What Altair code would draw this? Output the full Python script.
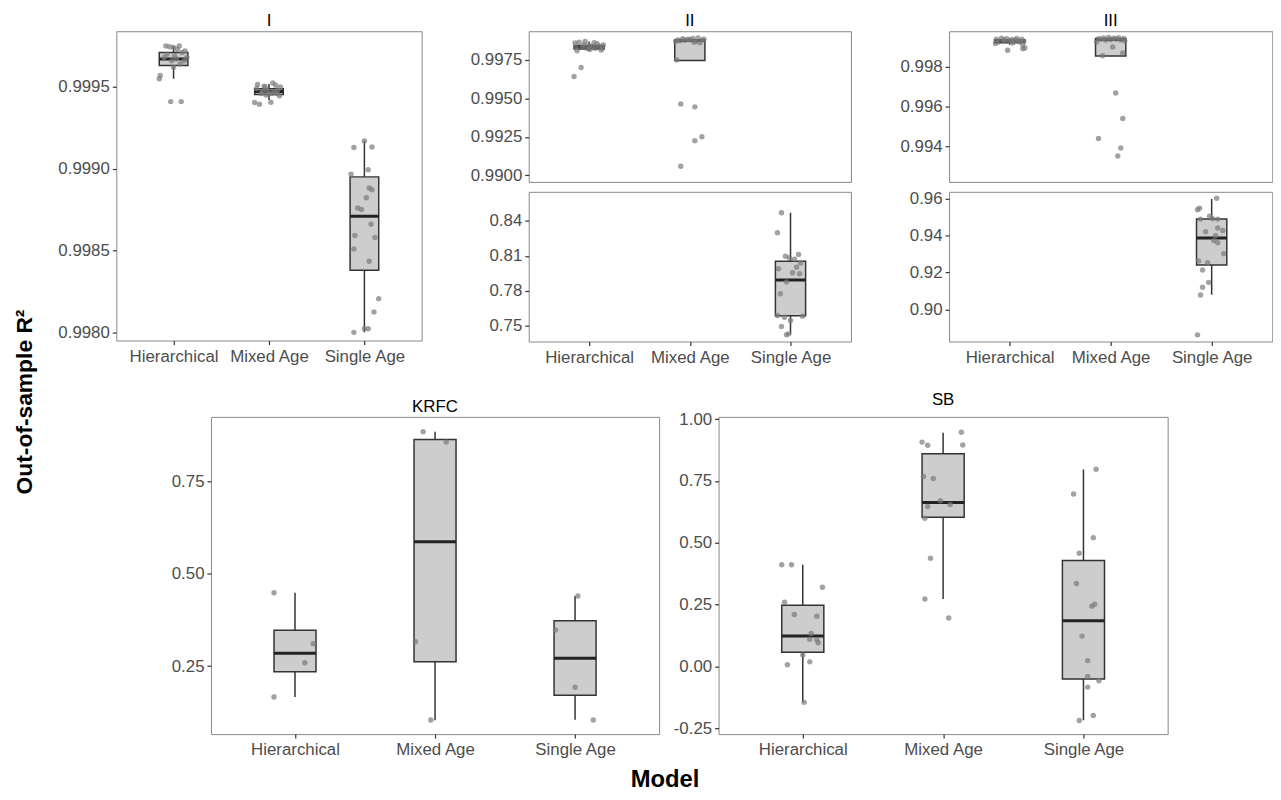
import altair as alt
import pandas as pd

FONT = "Liberation Sans"
MODELS = ["Hierarchical", "Mixed Age", "Single Age"]

# ---- box statistics (lower whisker, Q1, median, Q3, upper whisker) per model ----
BOX_I = dict(lo=[0.99955, 0.99942, 0.99800], q1=[0.99963, 0.999453, 0.99838],
             med=[0.99967, 0.999472, 0.99871], q3=[0.99971, 0.999488, 0.99895],
             hi=[0.99975, 0.999518, 0.99917])
BOX_II = dict(lo=[0.99805, 0.99747, 0.7423], q1=[0.99822, 0.99747, 0.7586],
              med=[0.99833, 0.99876, 0.7894], q3=[0.99845, 0.99881, 0.8054],
              hi=[0.99870, 0.99895, 0.8471])
BOX_III = dict(lo=[0.99912, 0.99855, 0.9080], q1=[0.99922, 0.99855, 0.9240],
               med=[0.99930, 0.99938, 0.9386], q3=[0.99937, 0.99943, 0.9488],
               hi=[0.99945, 0.99948, 0.9596])
BOX_KRFC = dict(lo=[0.1665, 0.1037, 0.105], q1=[0.235, 0.262, 0.171],
                med=[0.285, 0.587, 0.2716], q3=[0.347, 0.864, 0.373],
                hi=[0.449, 0.885, 0.440])
BOX_SB = dict(lo=[-0.1447, 0.2733, -0.217], q1=[0.058, 0.603, -0.0507],
              med=[0.1234, 0.663, 0.185], q3=[0.248, 0.860, 0.429],
              hi=[0.4116, 0.9445, 0.796])

# ---- jittered points: x position (1,2,3 = model) and R2 value ----
I_X = {
    "Hierarchical": [0.92, 0.96, 1.06, 1.00, 1.09, 1.14, 1.03, 0.98, 1.07, 1.01, 0.86, 0.85, 0.97, 1.08, 1.00, 1.11, 0.93, 1.04, 0.90, 1.12],
    "Mixed Age": [1.88, 1.95, 2.04, 2.07, 2.11, 1.85, 1.90, 2.02, 1.93, 2.00, 2.09, 1.97, 2.05, 1.87, 2.12, 1.98, 2.03, 1.92, 2.08, 1.96],
    "Single Age": [3.00, 2.89, 3.08, 3.04, 2.86, 3.05, 3.08, 3.02, 2.97, 3.07, 2.90, 3.11, 2.89, 3.05, 3.15, 3.10, 3.00, 3.04, 2.89, 2.93],
}
I_Y = {
    "Hierarchical": [0.99975, 0.999745, 0.99975, 0.99974, 0.99971, 0.99968, 0.99967, 0.99966, 0.99964, 0.99969, 0.99957, 0.99955, 0.99941, 0.99941, 0.99962, 0.99966, 0.99970, 0.99973, 0.99968, 0.99972],
    "Mixed Age": [0.999514, 0.999504, 0.999524, 0.99951, 0.999445, 0.999404, 0.999394, 0.999406, 0.99947, 0.99946, 0.99948, 0.99945, 0.99947, 0.99949, 0.99950, 0.99948, 0.99946, 0.99946, 0.99946, 0.99950],
    "Single Age": [0.999169, 0.999129, 0.999133, 0.998994, 0.998966, 0.998882, 0.998872, 0.998822, 0.998751, 0.998661, 0.998592, 0.99858, 0.99851, 0.998435, 0.998206, 0.998124, 0.998022, 0.998022, 0.998, 0.99876],
}
II_X = {
    "Hierarchical": [0.86, 0.90, 0.95, 1.00, 1.05, 1.10, 1.13, 0.88, 0.93, 0.98, 1.03, 1.08, 1.12, 0.87, 1.01, 1.06, 0.96, 1.14, 0.85, 0.92],
    "Mixed Age": [1.88, 1.93, 1.98, 2.03, 2.08, 2.12, 1.90, 2.06, 2.10, 1.95, 2.00, 2.14, 1.86, 2.04, 1.87, 1.91, 2.05, 2.12, 2.05, 1.91],
    "Single Age": [2.91, 2.87, 2.95, 3.08, 3.04, 3.06, 3.02, 3.09, 2.88, 2.96, 2.90, 2.87, 2.94, 3.00, 3.12, 2.91, 2.96, 2.98, 3.10, 2.99],
}
II_Y = {
    "Hierarchical": [0.99860, 0.99866, 0.99850, 0.99845, 0.99862, 0.99840, 0.99828, 0.99810, 0.99835, 0.99825, 0.99838, 0.99855, 0.99815, 0.99830, 0.99820, 0.99826, 0.99870, 0.99848, 0.996426, 0.997005],
    "Mixed Age": [0.99880, 0.99888, 0.99885, 0.99890, 0.99893, 0.99880, 0.99875, 0.99870, 0.99862, 0.99878, 0.99882, 0.99885, 0.99870, 0.99866, 0.99750, 0.994645, 0.994452, 0.992504, 0.992247, 0.990594],
    "Single Age": [0.8471, 0.8300, 0.8097, 0.8113, 0.8073, 0.8004, 0.7956, 0.7947, 0.7990, 0.7876, 0.7776, 0.7589, 0.7574, 0.7546, 0.7583, 0.7494, 0.7423, 0.7431, 0.8040, 0.8085],
}
III_X = {
    "Hierarchical": [0.87, 0.92, 0.97, 1.02, 1.07, 1.12, 1.14, 0.89, 0.95, 1.00, 1.05, 1.10, 0.86, 1.03, 1.13, 0.94, 1.08, 0.98, 1.13, 1.15],
    "Mixed Age": [1.88, 1.93, 1.98, 2.03, 2.08, 2.13, 1.90, 2.00, 2.10, 1.95, 2.05, 2.14, 1.86, 2.02, 2.12, 1.92, 2.05, 2.12, 1.88, 2.10, 2.07],
    "Single Age": [3.05, 2.88, 2.86, 2.98, 2.89, 3.06, 3.06, 3.11, 3.04, 3.02, 3.06, 3.12, 2.87, 2.96, 2.91, 2.97, 2.91, 2.89, 2.86, 3.01, 2.94],
}
III_Y = {
    "Hierarchical": [0.99940, 0.99945, 0.99942, 0.99938, 0.99944, 0.99940, 0.99930, 0.99925, 0.99932, 0.99928, 0.99935, 0.99926, 0.99918, 0.99920, 0.99912, 0.99936, 0.99933, 0.99884, 0.99892, 0.99895],
    "Mixed Age": [0.99942, 0.99946, 0.99948, 0.99945, 0.99947, 0.99944, 0.99940, 0.99938, 0.99936, 0.99935, 0.99941, 0.99930, 0.99925, 0.99900, 0.99870, 0.99856, 0.99668, 0.99539, 0.99438, 0.99390, 0.99350],
    "Single Age": [0.9600, 0.9547, 0.9538, 0.9503, 0.9488, 0.9488, 0.9440, 0.9427, 0.9398, 0.9372, 0.9360, 0.9301, 0.9262, 0.9253, 0.9214, 0.9147, 0.9121, 0.9079, 0.8864, 0.9490, 0.9420],
}
KRFC_X = {
    "Hierarchical": [0.85, 1.13, 1.07, 0.85],
    "Mixed Age": [1.915, 2.08, 1.86, 1.97],
    "Single Age": [3.02, 2.86, 3.00, 3.13],
}
KRFC_Y = {
    "Hierarchical": [0.449, 0.311, 0.259, 0.1665],
    "Mixed Age": [0.885, 0.857, 0.316, 0.104],
    "Single Age": [0.440, 0.348, 0.193, 0.104],
}
SB_X = {
    "Hierarchical": [0.85, 0.92, 1.14, 0.87, 0.94, 1.10, 1.06, 1.05, 1.10, 1.11, 1.00, 1.05, 0.89, 1.01],
    "Mixed Age": [2.13, 1.85, 1.89, 2.14, 1.86, 1.93, 1.98, 2.05, 1.89, 1.87, 1.91, 1.87, 2.04],
    "Single Age": [3.09, 2.93, 3.07, 2.97, 2.95, 3.08, 3.06, 2.99, 3.03, 3.03, 3.11, 3.03, 3.07, 2.97],
}
SB_Y = {
    "Hierarchical": [0.4116, 0.4116, 0.3203, 0.260, 0.2105, 0.2037, 0.134, 0.110, 0.107, 0.0965, 0.047, 0.019, 0.007, -0.1447],
    "Mixed Age": [0.947, 0.907, 0.894, 0.895, 0.768, 0.760, 0.670, 0.655, 0.647, 0.599, 0.438, 0.273, 0.196],
    "Single Age": [0.797, 0.697, 0.521, 0.458, 0.336, 0.252, 0.244, 0.123, 0.024, -0.040, -0.0575, -0.083, -0.198, -0.218],
}


def frames(box, px, py):
    brows = []
    prows = []
    for i, m in enumerate(MODELS):
        brows.append(dict(model=m, pos=i + 1, lo=box["lo"][i], q1=box["q1"][i],
                          med=box["med"][i], q3=box["q3"][i], hi=box["hi"][i]))
        for xv, yv in zip(px[m], py[m]):
            prows.append(dict(model=m, x=xv, y=yv))
    return pd.DataFrame(brows), pd.DataFrame(prows)


LABEL_EXPR = ("datum.value == 1 ? 'Hierarchical' : datum.value == 2 ? 'Mixed Age' : "
              "datum.value == 3 ? 'Single Age' : ''")
BOX_HALF = 0.15


def panel(box, px, py, models, ydom, yvals, fmt, w, h, show_x, title=None):
    bdf, pdf = frames(box, px, py)
    bdf = bdf[bdf.model.isin(models)]
    pdf = pdf[pdf.model.isin(models)]
    xs = alt.Scale(domain=[0.4, 3.6], nice=False, zero=False)
    ys = alt.Scale(domain=ydom, nice=False, zero=False)
    if show_x:
        xa = alt.Axis(values=[1, 2, 3], labelExpr=LABEL_EXPR, title=None, grid=False,
                      domain=False, labelPadding=4)
    else:
        xa = None
    ya = alt.Axis(values=yvals, labelExpr=f"replace(format(datum.value, '{fmt}'), '\u2212', '-')",
                  title=None, grid=False, domain=False)

    def X(f):
        return alt.X(f, scale=xs, axis=xa)

    def Y(f):
        return alt.Y(f, scale=ys, axis=ya)

    bb = alt.Chart(bdf).transform_calculate(x0=f"datum.pos - {BOX_HALF}",
                                            x1=f"datum.pos + {BOX_HALF}")
    whisk = bb.mark_rule(color="#333333", strokeWidth=1.5, clip=True).encode(
        x=X("pos:Q"), y=Y("lo:Q"), y2="hi:Q")
    boxes = bb.mark_bar(fill="#cdcdcd", stroke="#333333", strokeWidth=1.5, clip=True).encode(
        x=X("x0:Q"), x2="x1:Q", y=Y("q1:Q"), y2="q3:Q")
    med = bb.mark_rule(color="#222222", strokeWidth=3, clip=True).encode(
        x=X("x0:Q"), x2="x1:Q", y=Y("med:Q"))
    pts = alt.Chart(pdf).mark_circle(size=30, color="#7a7a7a", opacity=0.7, clip=True).encode(
        x=X("x:Q"), y=Y("y:Q"))
    ch = alt.layer(whisk, boxes, med, pts).properties(width=w, height=h)
    if title:
        ch = ch.properties(title=alt.TitleParams(text=title, font=FONT, fontSize=17,
                                                 fontWeight="normal", color="black",
                                                 offset=1, anchor="middle"))
    return ch


ALL = MODELS
TOPM = ["Hierarchical", "Mixed Age"]
SING = ["Single Age"]

pI = panel(BOX_I, I_X, I_Y, ALL, [0.99795, 0.99984], [0.998, 0.9985, 0.999, 0.9995], ".4f",
           308, 312, True, "I")
pII = alt.vconcat(
    panel(BOX_II, II_X, II_Y, TOPM, [0.98957, 0.99937], [0.99, 0.9925, 0.995, 0.9975], ".4f",
          325, 152, False, "II"),
    panel(BOX_II, II_X, II_Y, SING, [0.7365, 0.8651], [0.75, 0.78, 0.81, 0.84], ".2f",
          325, 151, True),
    spacing=10, bounds="flush")
pIII = alt.vconcat(
    panel(BOX_III, III_X, III_Y, TOPM, [0.99219, 0.9998], [0.994, 0.996, 0.998], ".3f",
          326, 152, False, "III"),
    panel(BOX_III, III_X, III_Y, SING, [0.8828, 0.9635], [0.90, 0.92, 0.94, 0.96], ".2f",
          326, 151, True),
    spacing=10, bounds="flush")
top = alt.hconcat(pI, pII, pIII, spacing=47)

pK = panel(BOX_KRFC, KRFC_X, KRFC_Y, ALL, [0.066, 0.925], [0.25, 0.5, 0.75], ".2f",
           452, 320, True, "KRFC")
pS = panel(BOX_SB, SB_X, SB_Y, ALL, [-0.273, 1.009], [-0.25, 0, 0.25, 0.5, 0.75, 1.0], ".2f",
           453, 320, True, "SB")
spacer = alt.Chart(pd.DataFrame({"v": [0]})).mark_rule(strokeOpacity=0).encode(
    x=alt.value(0), x2=alt.value(1), y=alt.value(5)
).properties(width=8, height=10, view=alt.ViewBackground(stroke="transparent"))
bottom = alt.hconcat(alt.hconcat(pK, pS, spacing=12), spacer, spacing=0)

inner = alt.vconcat(top, bottom, spacing=24, center=True).properties(
    title=alt.TitleParams(text="Model", orient="bottom", anchor="middle", font=FONT,
                          fontSize=24, fontWeight="bold", color="black", offset=10))

chart = alt.hconcat(inner).properties(
    padding={"left": 5, "top": 0, "right": 0, "bottom": 0},
    title=alt.TitleParams(text="Out-of-sample R²", orient="left", anchor="middle", font=FONT,
                          fontSize=23, fontWeight="bold", color="black", offset=21)
).configure_view(stroke="#888888", strokeWidth=1).configure_axis(
    labelFont=FONT, labelFontSize=17, labelColor="#4d4d4d", tickColor="#333333",
    tickSize=4, tickWidth=1.2, labelPadding=3
)

chart.save("out.html", embed_options={"renderer": "svg", "actions": False})
